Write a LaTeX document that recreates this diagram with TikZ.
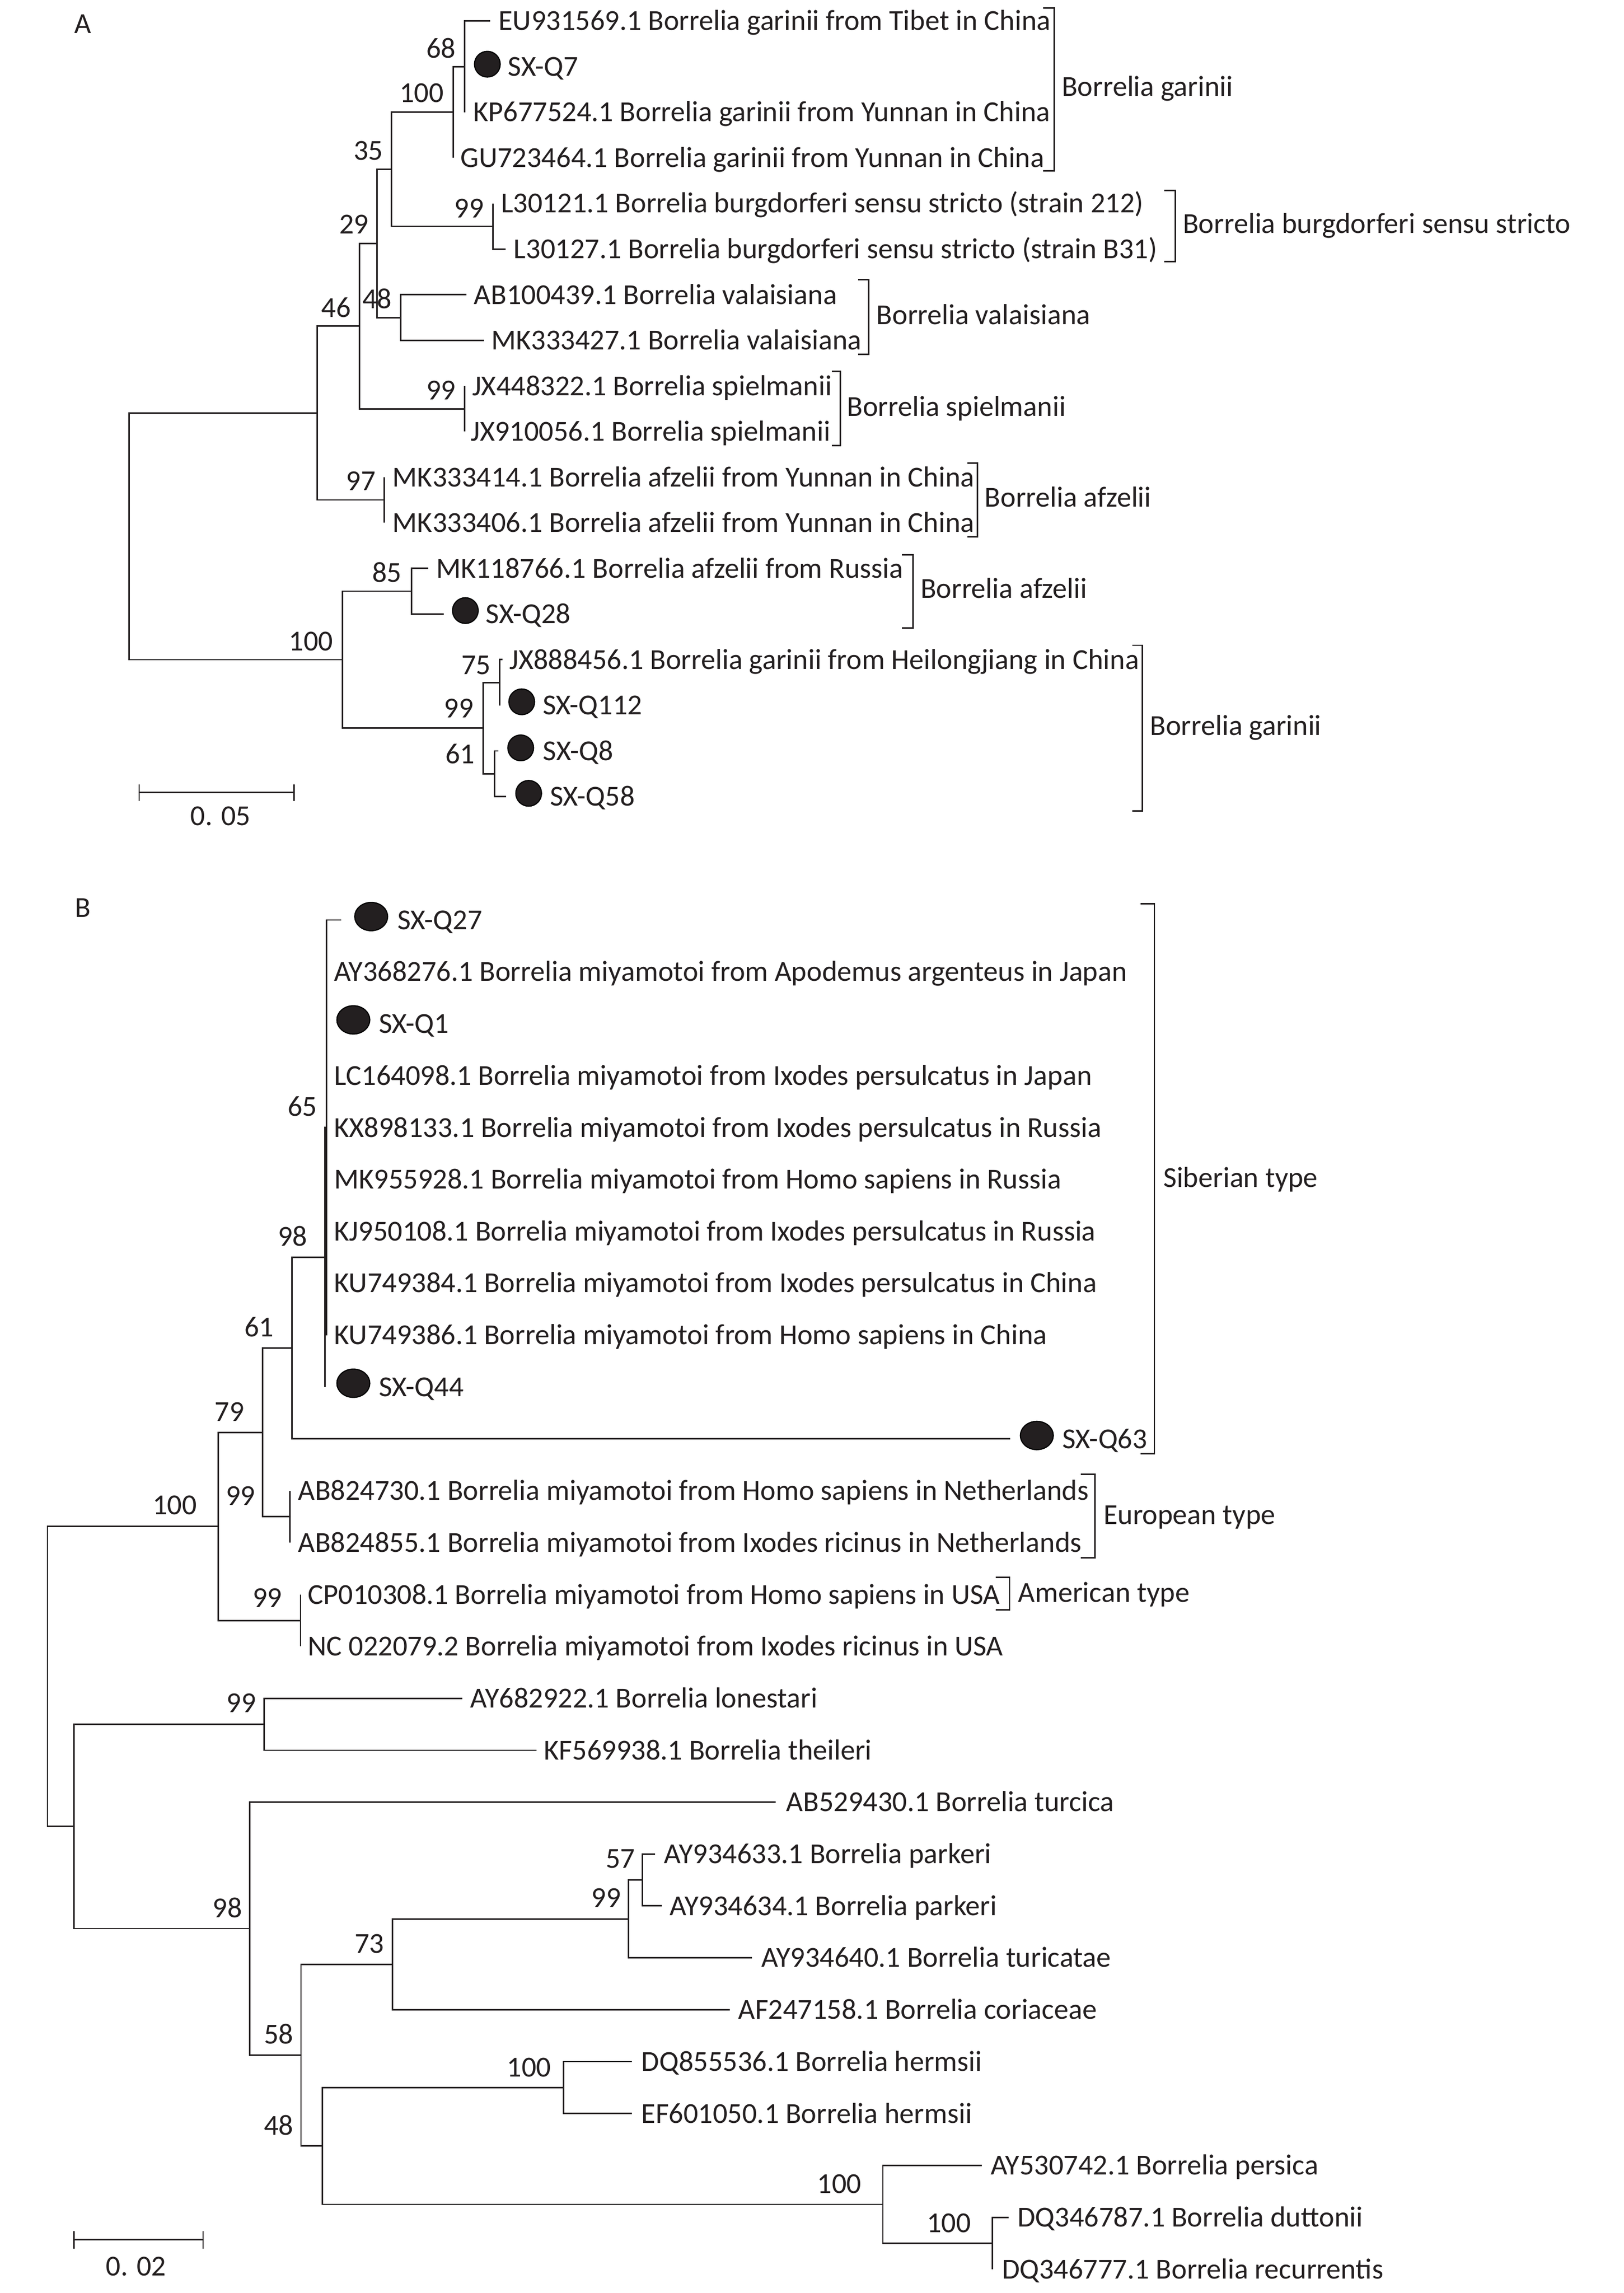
\documentclass[tikz,border=0pt]{standalone}
\usepackage{fontspec}
\setmainfont{Carlito}
\usetikzlibrary{shapes.geometric}
\definecolor{ink}{HTML}{231F20}
\begin{document}
\begin{tikzpicture}[x=0.028636cm,y=-0.028636cm,
  br/.style={draw=ink,line width=0.8pt},
  txt/.style={inner sep=0pt,text=ink,font=\fontsize{16}{19}\selectfont,text height=0.84em,text depth=0.2em,yshift=-0.07cm},
  lab/.style={txt,anchor=west},
  bs/.style={txt,anchor=east},
  grp/.style={txt,anchor=west},
  dotA/.style={circle,fill=ink,draw=black,line width=0.6pt,minimum size=0.5cm,inner sep=0pt},
  dotB/.style={ellipse,fill=ink,draw=black,line width=0.6pt,minimum width=0.64cm,minimum height=0.55cm,inner sep=0pt}
]
\useasboundingbox (0,0) rectangle (1100,1553.6);

% ---------------- Panel A ----------------
\node[txt] (lA) at (56,16) {A};

\coordinate (rA) at (87.5,363.4);
\coordinate (nA1) at (215,279.8);
\coordinate (n46) at (243.7,220.9);
\coordinate (n29) at (255.5,164.9);
\coordinate (n35) at (265.3,114.7);
\coordinate (n100) at (307,76);
\coordinate (n68) at (314.8,45.1);
\coordinate (nBurg) at (333.9,153.3);
\coordinate (nVal) at (271.4,215.15);
\coordinate (nSpi) at (314.8,277);
\coordinate (n97) at (260.4,338.75);
\coordinate (nB100) at (232,447);
\coordinate (n85) at (278.8,400.55);
\coordinate (n99b) at (327.5,493.3);
\coordinate (n75) at (338.6,462.4);
\coordinate (n61) at (335.1,524.25);

\coordinate (tEU) at (332,14.2);
\coordinate (tQ7) at (314.8,45.1);
\coordinate (tKP) at (314.8,76.0);
\coordinate (tGU) at (307,106.9);
\coordinate (tL1) at (333.9,137.8);
\coordinate (tL2) at (342.5,168.8);
\coordinate (tAB) at (316,199.7);
\coordinate (tMK7) at (327.8,230.6);
\coordinate (tJX1) at (314.8,261.5);
\coordinate (tJX2) at (314.8,292.4);
\coordinate (tMK10) at (260.4,323.3);
\coordinate (tMK11) at (260.4,354.2);
\coordinate (tMK12) at (290.3,385.1);
\coordinate (tQ28) at (300.8,416.0);
\coordinate (tJX14) at (340.5,446.9);
\coordinate (tQ112) at (338.6,477.9);
\coordinate (tQ8) at (337.5,508.8);
\coordinate (tQ58) at (343,539.7);

\draw[br] (rA) |- (nA1);  \draw[br] (rA) |- (nB100);
\draw[br] (nA1) |- (n46); \draw[br] (nA1) |- (n97);
\draw[br] (n46) |- (n29); \draw[br] (n46) |- (nSpi);
\draw[br] (n29) |- (n35); \draw[br] (n29) |- (nVal);
\draw[br] (n35) |- (n100); \draw[br] (n35) |- (nBurg);
\draw[br] (n100) |- (n68); \draw[br] (n100) |- (tGU);
\draw[br] (n68) |- (tEU); \draw[br] (n68) |- (tQ7); \draw[br] (n68) |- (tKP);
\draw[br] (nBurg) |- (tL1); \draw[br] (nBurg) |- (tL2);
\draw[br] (nVal) |- (tAB); \draw[br] (nVal) |- (tMK7);
\draw[br] (nSpi) |- (tJX1); \draw[br] (nSpi) |- (tJX2);
\draw[br] (n97) |- (tMK10); \draw[br] (n97) |- (tMK11);
\draw[br] (nB100) |- (n85); \draw[br] (nB100) |- (n99b);
\draw[br] (n85) |- (tMK12); \draw[br] (n85) |- (tQ28);
\draw[br] (n99b) |- (n75); \draw[br] (n99b) |- (n61);
\draw[br] (n75) |- (tJX14); \draw[br] (n75) |- (tQ112);
\draw[br] (n61) |- (tQ8); \draw[br] (n61) |- (tQ58);

\node[lab] (xEU) at (337.6,14.2) {EU931569.1 Borrelia garinii from Tibet in China};
\node[dotA] (dQ7) at (330.2,43.5) {};
\node[lab] (xQ7) at (344,45.1) {SX-Q7};
\node[lab] (xKP) at (320.4,76.0) {KP677524.1 Borrelia garinii from Yunnan in China};
\node[lab] (xGU) at (311.9,106.9) {GU723464.1 Borrelia garinii from Yunnan in China};
\node[lab] (xL1) at (339.3,137.8) {L30121.1 Borrelia burgdorferi sensu stricto (strain 212)};
\node[lab] (xL2) at (347.9,168.8) {L30127.1 Borrelia burgdorferi sensu stricto (strain B31)};
\node[lab] (xAB) at (321,199.7) {AB100439.1 Borrelia valaisiana};
\node[lab] (xMK7) at (332.7,230.6) {MK333427.1 Borrelia valaisiana};
\node[lab] (xJX1) at (319.8,261.5) {JX448322.1 Borrelia spielmanii};
\node[lab] (xJX2) at (318.8,292.4) {JX910056.1 Borrelia spielmanii};
\node[lab] (xMK10) at (265.8,323.3) {MK333414.1 Borrelia afzelii from Yunnan in China};
\node[lab] (xMK11) at (265.8,354.2) {MK333406.1 Borrelia afzelii from Yunnan in China};
\node[lab] (xMK12) at (295.2,385.1) {MK118766.1 Borrelia afzelii from Russia};
\node[dotA] (dQ28) at (315.3,413.7) {};
\node[lab] (xQ28) at (329,416.0) {SX-Q28};
\node[lab] (xJX14) at (345,446.9) {JX888456.1 Borrelia garinii from Heilongjiang in China};
\node[dotA] (dQ112) at (353.5,475.5) {};
\node[lab] (xQ112) at (367.5,477.9) {SX-Q112};
\node[dotA] (dQ8) at (352.8,506.7) {};
\node[lab] (xQ8) at (367.8,508.8) {SX-Q8};
\node[dotA] (dQ58) at (358.2,537.5) {};
\node[lab] (xQ58) at (372.4,539.7) {SX-Q58};

\node[bs] (b68) at (309,33) {68};
\node[bs] (b100a) at (300.8,63) {100};
\node[bs] (b35) at (259.7,102) {35};
\node[bs] (b29) at (250,152) {29};
\node[bs] (b46) at (238,208.5) {46};
\node[bs] (b48) at (265.8,202.5) {48};
\node[bs] (b99a) at (328,141) {99};
\node[bs] (b99b) at (309,264.6) {99};
\node[bs] (b97) at (254.8,325.9) {97};
\node[bs] (b85) at (272.4,388) {85};
\node[bs] (b100b) at (225.9,434.6) {100};
\node[bs] (b75) at (332.7,450.6) {75};
\node[bs] (b99c) at (321,480) {99};
\node[bs] (b61) at (322,511) {61};

% brackets A
\draw[br] (706.7,5.3) -- (714.4,5.3) -- (714.4,115.8) -- (706.7,115.8);
\node[grp] (gGar1) at (719.2,58.8) {Borrelia garinii};
\draw[br] (788.8,129) -- (796.3,129) -- (796.3,177.1) -- (788.8,177.1);
\node[grp] (gBurg) at (801.3,151.5) {Borrelia burgdorferi sensu stricto};
\draw[br] (581.4,189.5) -- (588.7,189.5) -- (588.7,240) -- (581.4,240);
\node[grp] (gVal) at (593.7,213.5) {Borrelia valaisiana};
\draw[br] (563.7,251.6) -- (569.3,251.6) -- (569.3,302) -- (563.7,302);
\node[grp] (gSpi) at (573.7,275.7) {Borrelia spielmanii};
\draw[br] (655.3,313.8) -- (662.2,313.8) -- (662.2,363.7) -- (655.3,363.7);
\node[grp] (gAfz1) at (667,337) {Borrelia afzelii};
\draw[br] (611,375.8) -- (618.6,375.8) -- (618.6,425.6) -- (611,425.6);
\node[grp] (gAfz2) at (623.5,398.9) {Borrelia afzelii};
\draw[br] (767.1,437.2) -- (773.9,437.2) -- (773.9,549.5) -- (767.1,549.5);
\node[grp] (gGar2) at (779,491.8) {Borrelia garinii};

% scale A
\coordinate (sA1) at (94.3,537);
\coordinate (sA2) at (199.2,537);
\draw[br] (sA1) -- (sA2);
\draw[br] ([yshift=-0.16cm]sA1) -- ([yshift=0.16cm]sA1);
\draw[br] ([yshift=-0.16cm]sA2) -- ([yshift=0.16cm]sA2);
\node[txt] (scA) at (149.4,553) {0. 05};

% ---------------- Panel B ----------------
\node[txt] (lB) at (56,615) {B};

\coordinate (rB) at (32.1,1135.85);
\coordinate (n100x) at (147.8,1034.2);
\coordinate (n79) at (178,970.5);
\coordinate (n61b) at (197.8,913.4);
\coordinate (n98) at (220.2,851.9);
\coordinate (n65) at (221.1,764.0);
\coordinate (nEur) at (196.4,1027.65);
\coordinate (nAm) at (203.6,1097.95);
\coordinate (nX) at (50.2,1237.5);
\coordinate (n99lon) at (179,1168.3);
\coordinate (n98b) at (169.2,1306.7);
\coordinate (n58) at (203.9,1392.4);
\coordinate (n73) at (265.9,1330.9);
\coordinate (n99par) at (425.8,1300.1);
\coordinate (n57) at (435.4,1273.75);
\coordinate (n48) at (218.3,1453.95);
\coordinate (nHerm) at (381.8,1414.4);
\coordinate (n100p) at (598.2,1493.5);
\coordinate (n100q) at (672.4,1519.9);

\coordinate (tQ27) at (231.1,623.3);
\coordinate (tAY76) at (221.1,658.5);
\coordinate (tQ1) at (221.1,693.6);
\coordinate (tLC) at (221.1,728.8);
\coordinate (tKX) at (221.1,764.0);
\coordinate (tMK28) at (221.1,799.1);
\coordinate (tKJ) at (221.1,834.3);
\coordinate (tKU84) at (221.1,869.4);
\coordinate (tKU86) at (221.1,904.6);
\coordinate (tQ44) at (220.2,939.7);
\coordinate (tQ63) at (684.3,974.9);
\coordinate (tAB30) at (196.4,1010.1);
\coordinate (tAB55) at (196.4,1045.2);
\coordinate (tCP) at (203.6,1080.4);
\coordinate (tNC) at (203.6,1115.5);
\coordinate (tAY82) at (313.2,1150.7);
\coordinate (tKF) at (363.6,1185.9);
\coordinate (tAB29) at (525.4,1221.0);
\coordinate (tAY33) at (444,1256.2);
\coordinate (tAY34) at (448.3,1291.3);
\coordinate (tAY40) at (509.6,1326.5);
\coordinate (tAF) at (494.3,1361.7);
\coordinate (tDQ36) at (428.2,1396.8);
\coordinate (tEF) at (428.2,1432.0);
\coordinate (tAY42) at (665.2,1467.1);
\coordinate (tDQ87) at (683.4,1502.3);
\coordinate (tDQ77) at (672.4,1537.5);

\draw[br] (rB) |- (n100x); \draw[br] (rB) |- (nX);
\draw[br] (n100x) |- (n79); \draw[br] (n100x) |- (nAm);
\draw[br] (n79) |- (n61b); \draw[br] (n79) |- (nEur);
\draw[br] (n61b) |- (n98); \draw[br] (n61b) |- (tQ63);
\draw[br] (n98) |- (n65); \draw[br] (n98) |- (tQ44);
\foreach \t in {tQ27,tAY76,tQ1,tLC,tKX,tMK28,tKJ,tKU84,tKU86} {\draw[br] (n65) |- (\t);}
\draw[br] (nEur) |- (tAB30); \draw[br] (nEur) |- (tAB55);
\draw[br] (nAm) |- (tCP); \draw[br] (nAm) |- (tNC);
\draw[br] (nX) |- (n99lon); \draw[br] (nX) |- (n98b);
\draw[br] (n99lon) |- (tAY82); \draw[br] (n99lon) |- (tKF);
\draw[br] (n98b) |- (tAB29); \draw[br] (n98b) |- (n58);
\draw[br] (n58) |- (n73); \draw[br] (n58) |- (n48);
\draw[br] (n73) |- (n99par); \draw[br] (n73) |- (tAF);
\draw[br] (n99par) |- (n57); \draw[br] (n99par) |- (tAY40);
\draw[br] (n57) |- (tAY33); \draw[br] (n57) |- (tAY34);
\draw[br] (n48) |- (nHerm); \draw[br] (n48) |- (n100p);
\draw[br] (nHerm) |- (tDQ36); \draw[br] (nHerm) |- (tEF);
\draw[br] (n100p) |- (tAY42); \draw[br] (n100p) |- (n100q);
\draw[br] (n100q) |- (tDQ87); \draw[br] (n100q) |- (tDQ77);

\node[dotB] (dQ27) at (251.5,621) {};
\node[lab] (xQ27) at (269,623.3) {SX-Q27};
\node[lab] (xAY76) at (226.2,658.5) {AY368276.1 Borrelia miyamotoi from Apodemus argenteus in Japan};
\node[dotB] (dQ1) at (239.4,691) {};
\node[lab] (xQ1) at (256.5,693.6) {SX-Q1};
\node[lab] (xLC) at (226.2,728.8) {LC164098.1 Borrelia miyamotoi from Ixodes persulcatus in Japan};
\node[lab] (xKX) at (226.2,764.0) {KX898133.1 Borrelia miyamotoi from Ixodes persulcatus in Russia};
\node[lab] (xMK28) at (226.2,799.1) {MK955928.1 Borrelia miyamotoi from Homo sapiens in Russia};
\node[lab] (xKJ) at (226.2,834.3) {KJ950108.1 Borrelia miyamotoi from Ixodes persulcatus in Russia};
\node[lab] (xKU84) at (226.2,869.4) {KU749384.1 Borrelia miyamotoi from Ixodes persulcatus in China};
\node[lab] (xKU86) at (226.2,904.6) {KU749386.1 Borrelia miyamotoi from Homo sapiens in China};
\node[dotB] (dQ44) at (239.4,937.2) {};
\node[lab] (xQ44) at (256.5,939.7) {SX-Q44};
\node[dotB] (dQ63) at (702.5,972.6) {};
\node[lab] (xQ63) at (719.6,974.9) {SX-Q63};
\node[lab] (xAB30) at (201.8,1010.1) {AB824730.1 Borrelia miyamotoi from Homo sapiens in Netherlands};
\node[lab] (xAB55) at (201.8,1045.2) {AB824855.1 Borrelia miyamotoi from Ixodes ricinus in Netherlands};
\node[lab] (xCP) at (208.4,1080.4) {CP010308.1 Borrelia miyamotoi from Homo sapiens in USA};
\node[lab] (xNC) at (208.4,1115.5) {NC 022079.2 Borrelia miyamotoi from Ixodes ricinus in USA};
\node[lab] (xAY82) at (318.5,1150.7) {AY682922.1 Borrelia lonestari};
\node[lab] (xKF) at (368.4,1185.9) {KF569938.1 Borrelia theileri};
\node[lab] (xAB29) at (532.6,1221.0) {AB529430.1 Borrelia turcica};
\node[lab] (xAY33) at (449.8,1256.2) {AY934633.1 Borrelia parkeri};
\node[lab] (xAY34) at (453.6,1291.3) {AY934634.1 Borrelia parkeri};
\node[lab] (xAY40) at (515.8,1326.5) {AY934640.1 Borrelia turicatae};
\node[lab] (xAF) at (500,1361.7) {AF247158.1 Borrelia coriaceae};
\node[lab] (xDQ36) at (434.4,1396.8) {DQ855536.1 Borrelia hermsii};
\node[lab] (xEF) at (434.4,1432.0) {EF601050.1 Borrelia hermsii};
\node[lab] (xAY42) at (671,1467.1) {AY530742.1 Borrelia persica};
\node[lab] (xDQ87) at (689.2,1502.3) {DQ346787.1 Borrelia duttonii};
\node[lab] (xDQ77) at (678.6,1537.5) {DQ346777.1 Borrelia recurrentis};

\node[bs] (c65) at (215,749.8) {65};
\node[bs] (c98) at (208.4,837.8) {98};
\node[bs] (c61) at (185.7,899.1) {61};
\node[bs] (c79) at (165.7,956.5) {79};
\node[bs] (c99e) at (173.2,1013.5) {99};
\node[bs] (c100a) at (133.6,1019.6) {100};
\node[bs] (c99m) at (191.3,1082.6) {99};
\node[bs] (c99l) at (173.7,1153.7) {99};
\node[bs] (c98b) at (164.3,1292.7) {98};
\node[bs] (c57) at (430.6,1259.4) {57};
\node[bs] (c99p) at (421,1285.8) {99};
\node[bs] (c73) at (260.5,1317) {73};
\node[bs] (c58) at (199,1378.4) {58};
\node[bs] (c100h) at (373.6,1400.7) {100};
\node[bs] (c48) at (199,1440.2) {48};
\node[bs] (c100p) at (583.8,1479.7) {100};
\node[bs] (c100d) at (658,1506.1) {100};

% brackets B
\draw[br] (772.9,612.4) -- (782.2,612.4) -- (782.2,985) -- (772.9,985);
\node[grp] (gSib) at (788,798) {Siberian type};
\draw[br] (732.3,999) -- (742,999) -- (742,1055.5) -- (732.3,1055.5);
\node[grp] (gEur) at (747.4,1026.5) {European type};
\draw[br] (674.6,1068.6) -- (684.1,1068.6) -- (684.1,1090.7) -- (674.6,1090.7);
\node[grp] (gAm) at (689.7,1079.1) {American type};

% scale B
\coordinate (sB1) at (50.2,1517.5);
\coordinate (sB2) at (137.6,1517.5);
\draw[br] (sB1) -- (sB2);
\draw[br] ([yshift=-0.17cm]sB1) -- ([yshift=0.17cm]sB1);
\draw[br] ([yshift=-0.17cm]sB2) -- ([yshift=0.17cm]sB2);
\node[txt] (scB) at (92.2,1535.6) {0. 02};
\end{tikzpicture}
\end{document}
